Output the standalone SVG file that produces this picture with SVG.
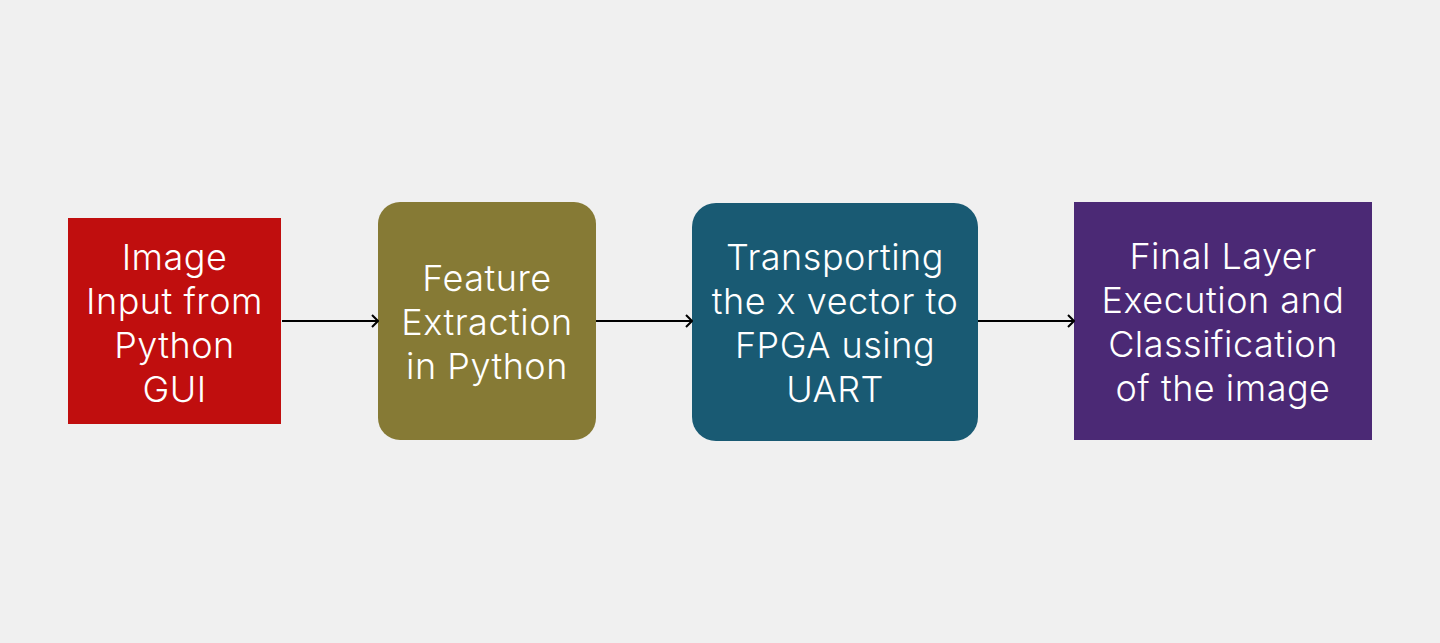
<svg xmlns="http://www.w3.org/2000/svg" width="1440" height="643" viewBox="0 0 1440 643">
<style>
.lbl{font-family:Inter,"Noto Sans",sans-serif;font-size:36px;font-weight:300;letter-spacing:0.5px;fill:#ffffff;text-anchor:middle}
.conn{stroke:#000;stroke-width:2;fill:none;marker-end:url(#arr)}
</style>
<defs>
<marker id="arr" viewBox="0 0 12 14" refX="11" refY="7" markerWidth="12" markerHeight="14" markerUnits="userSpaceOnUse" orient="auto">
<path d="M5,1 L11,7 L5,13" fill="none" stroke="#000" stroke-width="2"/>
</marker>
</defs>
<rect width="1440" height="643" fill="#F0F0F0"/>
<g id="n1">
<rect x="68" y="218" width="213" height="206" fill="#C00E0E"/>
<text class="lbl" x="174.5" y="270">Image</text>
<text class="lbl" x="174.5" y="314">Input from</text>
<text class="lbl" x="174.5" y="358">Python</text>
<text class="lbl" x="174.5" y="402">GUI</text>
</g>
<g id="n2">
<rect x="378" y="202" width="218" height="238" rx="22" fill="#867A35"/>
<text class="lbl" x="487" y="291">Feature</text>
<text class="lbl" x="487" y="335">Extraction</text>
<text class="lbl" x="487" y="379">in Python</text>
</g>
<g id="n3">
<rect x="692" y="203" width="286" height="238" rx="24" fill="#195A73"/>
<text class="lbl" x="835" y="270">Transporting</text>
<text class="lbl" x="835" y="314">the x vector to</text>
<text class="lbl" x="835" y="358">FPGA using</text>
<text class="lbl" x="835" y="402">UART</text>
</g>
<g id="n4">
<rect x="1074" y="202" width="298" height="238" fill="#4B2975"/>
<text class="lbl" x="1223" y="269">Final Layer</text>
<text class="lbl" x="1223" y="313">Execution and</text>
<text class="lbl" x="1223" y="357">Classification</text>
<text class="lbl" x="1223" y="401">of the image</text>
</g>
<g id="connectors">
<line class="conn" x1="282" y1="321" x2="378" y2="321"/>
<line class="conn" x1="596" y1="321" x2="692" y2="321"/>
<line class="conn" x1="978" y1="321" x2="1074" y2="321"/>
</g>
</svg>
